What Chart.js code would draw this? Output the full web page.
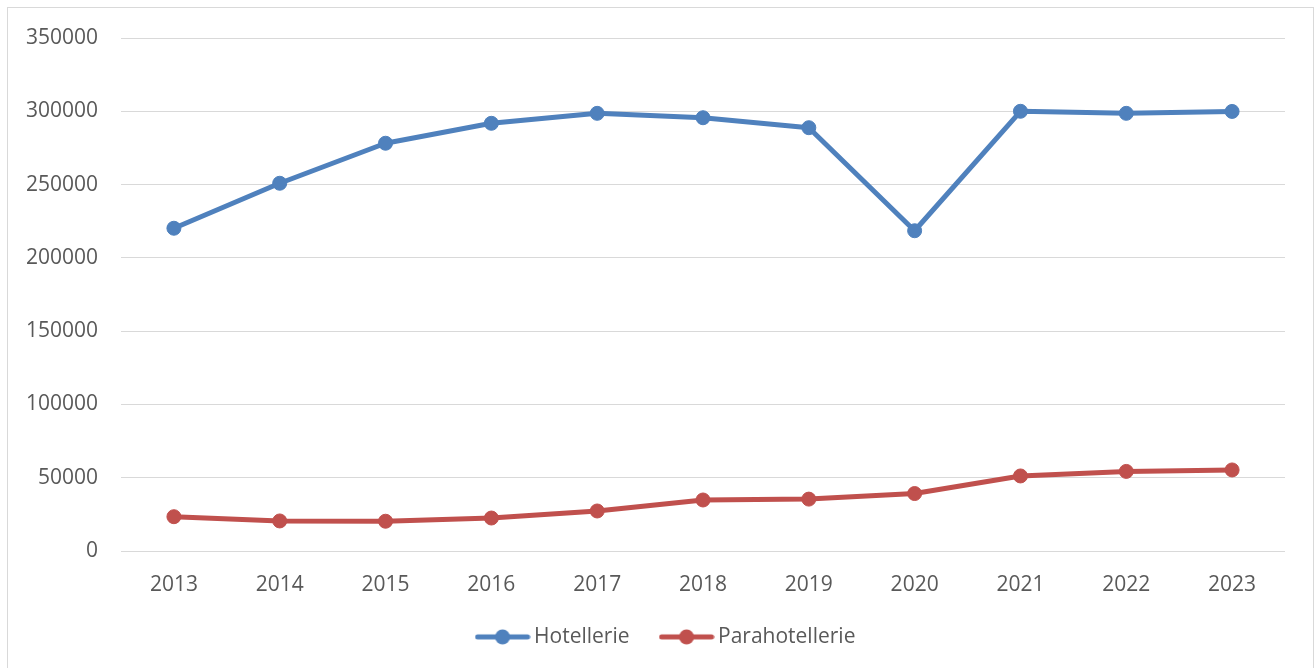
<!DOCTYPE html>
<html>
<head>
<meta charset="utf-8">
<script src="https://cdn.jsdelivr.net/npm/chart.js@4"></script>
<style>
  html, body { margin: 0; padding: 0; background: #ffffff; }
  #c { display: block; }
</style>
</head>
<body>
<canvas id="c" width="1315" height="668"></canvas>
<script>
const years = ['2013','2014','2015','2016','2017','2018','2019','2020','2021','2022','2023'];
const hotellerie = [220200, 250900, 278200, 291800, 298600, 295600, 288800, 218500, 300000, 298600, 299900];
const parahotellerie = [23400, 20500, 20300, 22500, 27300, 34800, 35400, 39200, 51200, 54300, 55300];
const seriesNames = ['Hotellerie', 'Parahotellerie'];
const seriesColors = ['#4F81BD', '#C0504D'];

function legendIcon(color) {
  const c = document.createElement('canvas');
  c.width = 56; c.height = 16;
  const g = c.getContext('2d');
  g.strokeStyle = color; g.lineWidth = 5; g.lineCap = 'round';
  g.beginPath(); g.moveTo(3, 8); g.lineTo(53, 8); g.stroke();
  g.fillStyle = color;
  g.beginPath(); g.arc(28, 8, 7.5, 0, Math.PI * 2); g.fill();
  return c;
}
const icons = seriesColors.map(legendIcon);

const borderPlugin = {
  id: 'outerBorder',
  beforeDraw(chart) {
    const ctx = chart.ctx;
    ctx.save();
    ctx.strokeStyle = '#d9d9d9';
    ctx.lineWidth = 1;
    ctx.strokeRect(7.5, 7.5, 1306, 700);
    ctx.restore();
  }
};

const legendTweak = {
  id: 'legendTweak',
  beforeLayout(chart) {
    const lg = chart.legend;
    if (lg && !lg._patched) {
      const origFit = lg.fit.bind(lg);
      lg.fit = function () { origFit(); this.height = 67; };
      lg._patched = true;
    }
  },
  afterLayout(chart) {
    const lg = chart.legend;
    if (lg) {
      const dy = 590.4 - lg.top;
      lg.top += dy; lg.bottom += dy;
      lg.left += 26; lg.right += 26;
    }
  }
};

const fontFamily = '"Open Sans", "Noto Sans", sans-serif';
const textColor = '#595959';

new Chart(document.getElementById('c'), {
  type: 'line',
  data: {
    labels: years,
    datasets: [
      {
        label: seriesNames[0],
        data: hotellerie,
        borderColor: seriesColors[0],
        backgroundColor: seriesColors[0],
        borderWidth: 5,
        pointRadius: 7,
        pointBorderWidth: 1,
        pointHoverRadius: 7,
        tension: 0,
        borderJoinStyle: 'round',
        fill: false
      },
      {
        label: seriesNames[1],
        data: parahotellerie,
        borderColor: seriesColors[1],
        backgroundColor: seriesColors[1],
        borderWidth: 5,
        pointRadius: 7,
        pointBorderWidth: 1,
        pointHoverRadius: 7,
        tension: 0,
        borderJoinStyle: 'round',
        fill: false
      }
    ]
  },
  options: {
    responsive: false,
    animation: false,
    devicePixelRatio: 1,
    layout: { padding: { left: 0, right: 30, top: 38, bottom: 0 } },
    plugins: {
      tooltip: { enabled: false },
      legend: {
        position: 'bottom',
        labels: {
          usePointStyle: true,
          pointStyleWidth: 42,
          padding: 36,
          color: textColor,
          font: { family: fontFamily, size: 21 },
          generateLabels(chart) {
            const items = Chart.defaults.plugins.legend.labels.generateLabels(chart);
            items.forEach((it, i) => { it.pointStyle = icons[i]; });
            return items;
          }
        }
      }
    },
    scales: {
      x: {
        offset: true,
        grid: { display: false, drawTicks: false },
        border: { display: false },
        ticks: { color: textColor, font: { family: fontFamily, size: 21 }, padding: 21, maxRotation: 0 },
        afterFit(scale) { scale.height = 50; }
      },
      y: {
        min: 0,
        max: 350000,
        grid: { color: '#d9d9d9', lineWidth: 1, drawTicks: false },
        border: { display: false },
        ticks: {
          stepSize: 50000, color: textColor, font: { family: fontFamily, size: 21 }, padding: 23,
          callback(v) { return String(v); }
        },
        afterFit(scale) { scale.width = 121; }
      }
    }
  },
  plugins: [borderPlugin, legendTweak]
});
</script>
</body>
</html>
